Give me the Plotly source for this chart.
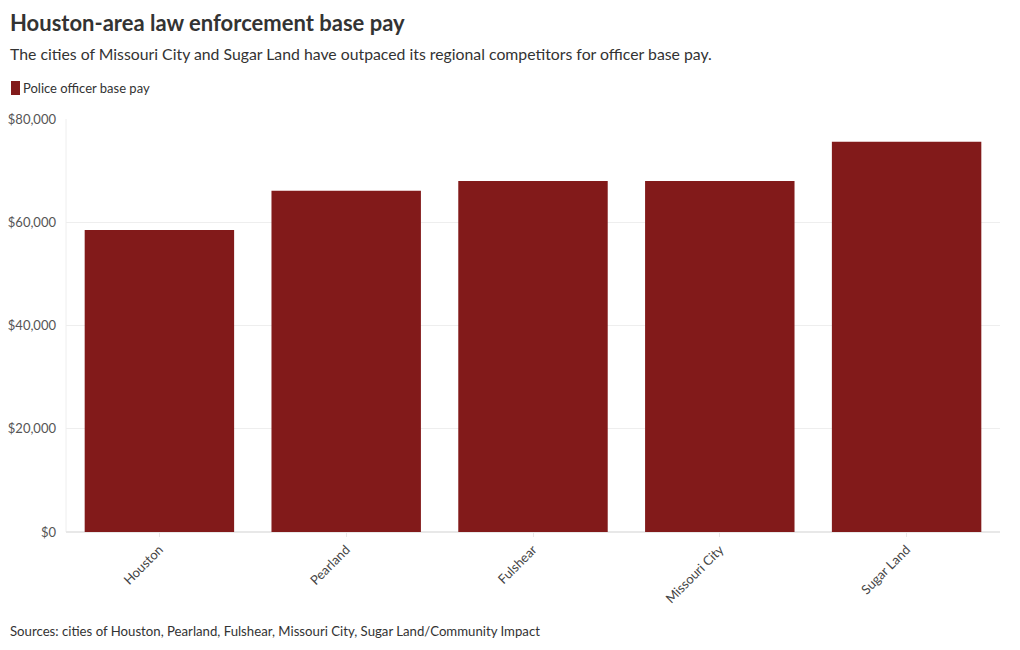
import plotly.graph_objects as go

cities = ["Houston", "Pearland", "Fulshear", "Missouri City", "Sugar Land"]
base_pay = [58500, 66100, 68000, 68000, 75600]
y_ticks = [0, 20000, 40000, 60000, 80000]
y_tick_labels = ["$0", "$20,000", "$40,000", "$60,000", "$80,000"]

FONT = "Lato, 'Source Sans Pro', sans-serif"
BAR_COLOR = "#821a1a"

W, H = 1020, 650
ML, MR, MT, MB = 66, 20, 119, 118


def px_to_paper(px, py):
    """Convert pixel coords of the page into paper coords"""
    return (px - ML) / (W - ML - MR), (H - MB - py) / (H - MT - MB)


fig = go.Figure()
fig.add_trace(go.Bar(
    x=cities,
    y=base_pay,
    name="Police officer base pay",
    marker=dict(color=BAR_COLOR, line=dict(width=0)),
    showlegend=False,
))

fig.update_layout(
    width=W, height=H,
    margin=dict(l=ML, r=MR, t=MT, b=MB, autoexpand=False),
    paper_bgcolor="white", plot_bgcolor="white",
    font=dict(family=FONT, color="#333333", size=13),
    bargap=0.2,
    xaxis=dict(tickangle=-45, showgrid=False, showline=True, linecolor="#e8e8e8",
               ticks="outside", ticklen=4, tickcolor="#e8e8e8",
               tickfont=dict(size=13, color="#444444")),
    yaxis=dict(range=[0, 80000], tickvals=y_ticks, ticktext=y_tick_labels,
               showgrid=True, gridcolor="#eeeeee", zeroline=True, zerolinecolor="#e8e8e8",
               tickfont=dict(size=13, color="#555555"), ticks="", ticklabelstandoff=9),
)

header = [
    ("<b>Houston-area law enforcement base pay</b>", 8, 22, 22),
    ("The cities of Missouri City and Sugar Land have outpaced its regional competitors for officer base pay.", 8, 54, 15.8),
    ("Police officer base pay", 21, 88, 13),
    ("Sources: cities of Houston, Pearland, Fulshear, Missouri City, Sugar Land/Community Impact", 8, 631, 13.2),
]
for text, xpx, ypx, size in header:
    ax, ay = px_to_paper(xpx, ypx)
    fig.add_annotation(text=text, x=ax, y=ay, xref="paper", yref="paper", showarrow=False,
                       xanchor="left", yanchor="middle",
                       font=dict(size=size, color="#333333", family=FONT))

# legend swatch (rounded tall square like the original)
x0, y0 = px_to_paper(11, 95)
x1, y1 = px_to_paper(20, 81)
fig.add_shape(type="rect", xref="paper", yref="paper", x0=x0, x1=x1, y0=y0, y1=y1,
              fillcolor=BAR_COLOR, line=dict(width=0))

# left edge guide line of the plot area
fig.add_shape(type="line", xref="paper", yref="paper", x0=0, x1=0, y0=0, y1=1,
              line=dict(color="#eeeeee", width=1), layer="below")

fig.write_html("out.html", config={"displayModeBar": False},
               post_script="document.body.style.margin='0';")
